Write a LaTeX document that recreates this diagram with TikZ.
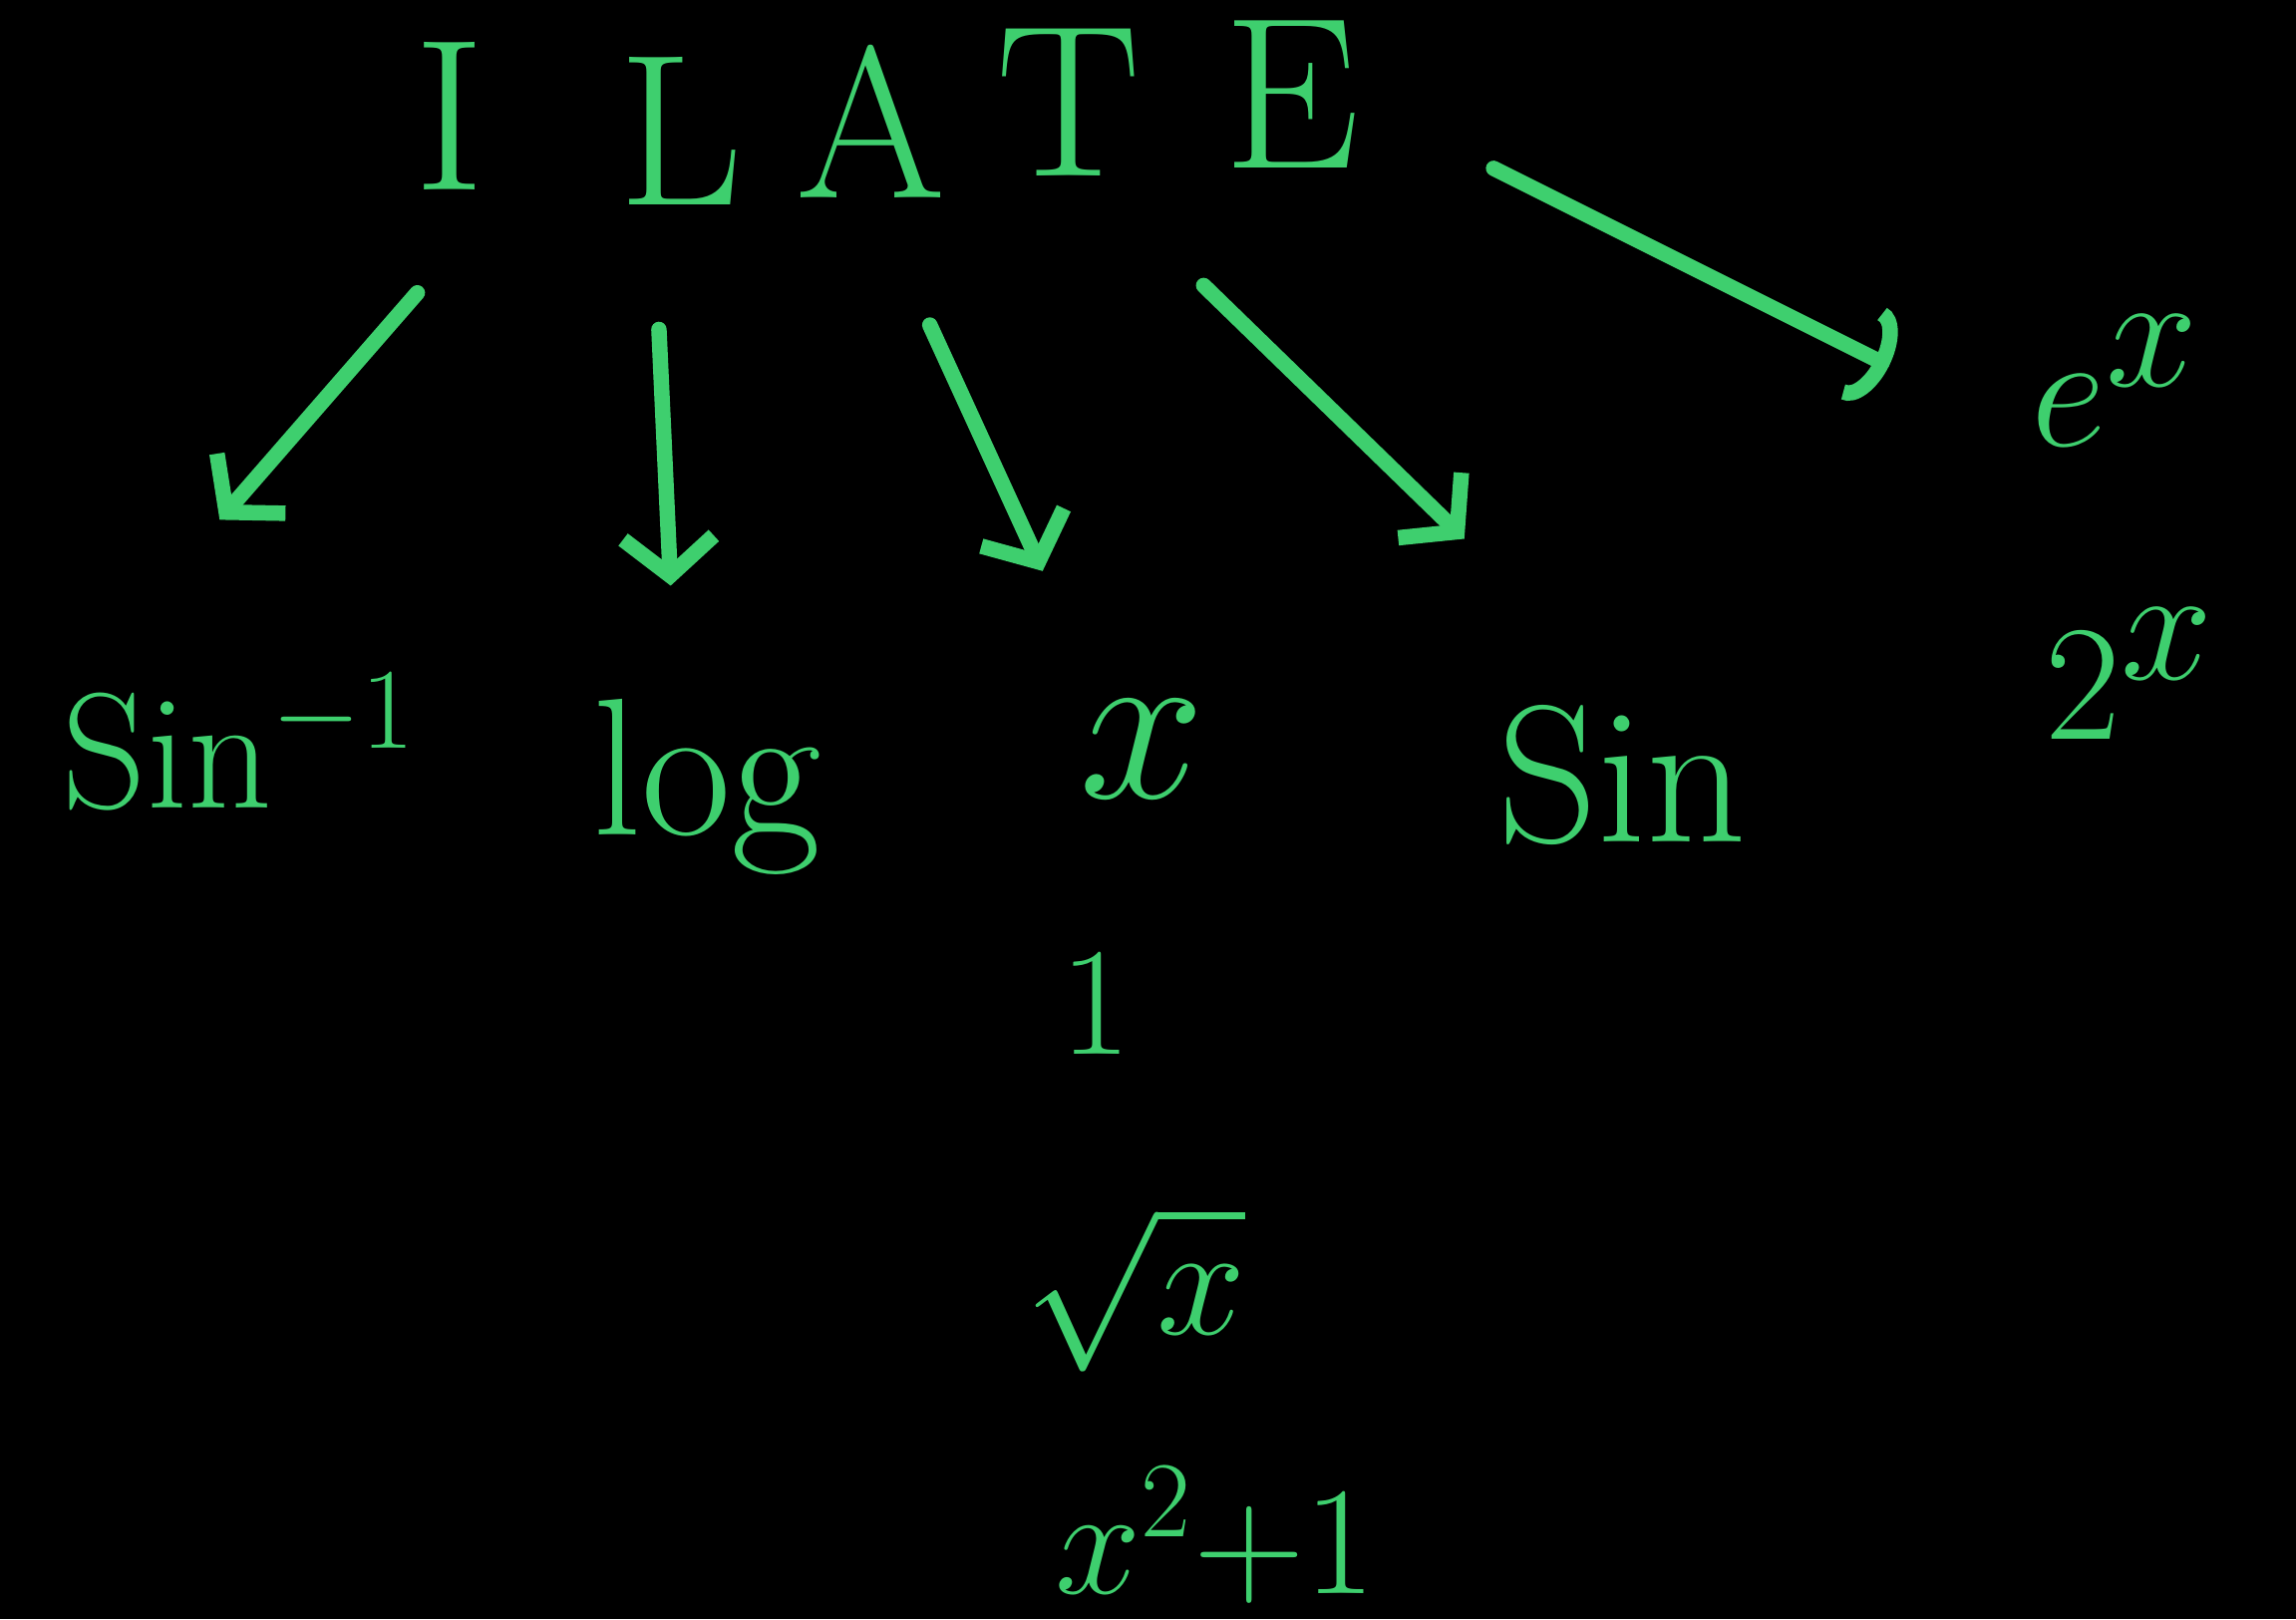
\documentclass[tikz,border=0pt]{standalone}
\usepackage{fix-cm}
\usepackage{amsmath,amssymb}
\usepackage{tikz}
\usetikzlibrary{arrows.meta,calc}

\definecolor{chalkgreen}{RGB}{62,207,110}

\begin{document}
\begin{tikzpicture}[
    letter/.style={text=chalkgreen, anchor=base, inner sep=0pt, font=\fontsize{42}{42}\selectfont},
    fn/.style={text=chalkgreen, anchor=base, inner sep=0pt, font=\fontsize{38}{38}\selectfont},
    arr/.style={chalkgreen, line width=3pt, line cap=round, -{Straight Barb[length=0.26cm, width=0.62cm, line width=3pt]}},
    arrc/.style={chalkgreen, line width=3pt, line cap=round, -{Arc Barb[length=0.2cm, width=0.7cm, line width=3pt]}}
]
% Background (fixes the page size)
\fill[black] (0,0) rectangle (15.68,11.06);
\useasboundingbox (0,0) rectangle (15.68,11.06);

% ILATE letters
\node[letter] (I) at (3.07,9.76) {I};
\node[letter] (L) at (4.65,9.66) {L};
\node[letter] (A) at (5.95,9.71) {A};
\node[letter] (T) at (7.30,9.86) {T};
\node[letter] (E) at (8.82,9.91) {E};

% Functions of each kind
\node[fn, anchor=base west, font=\fontsize{32}{32}\selectfont] (asin) at (0.42,5.54) {Sin$^{-1}$};
\node[fn] (log) at (4.83,5.36) {log};
\node[fn, font=\fontsize{44}{44}\selectfont] (xval) at (7.80,5.61) {$x$};
\node[fn] (sin) at (11.08,5.31) {Sin};
\node[fn, font=\fontsize{32}{32}\selectfont] (ex) at (14.45,8.01) {$e^{\textstyle x}$};
\node[fn, font=\fontsize{32}{32}\selectfont] (twox) at (14.55,6.01) {$2^{\textstyle x}$};

% More algebraic ones under x
\node[fn, font=\fontsize{30}{30}\selectfont] (one) at (7.48,3.86) {1};
\node[fn, font=\fontsize{31}{31}\selectfont] (sqrtx) at (7.75,1.95) {$\sqrt{x}$};
\node[fn, font=\fontsize{30}{30}\selectfont] (xsq) at (8.30,0.18) {$x^{2}{+}1$};

% Arrows from letters down to examples
\draw[arr] ($(I.base)+(-0.22,-0.70)$) -- ($(asin.base west)+(1.08,1.97)$);
\draw[arr] ($(L.base)+(-0.15,-0.85)$) -- ($(log.base)+(-0.25,1.70)$);
\draw[arr] ($(A.base)+(0.40,-0.87)$) -- ($(xval.base)+(-0.68,1.55)$);
\draw[arr] ($(T.base)+(0.92,-0.75)$) -- ($(sin.base)+(-1.08,2.07)$);
\draw[arrc] ($(E.base)+(1.38,0)$) -- ($(ex.base)+(-1.55,0.55)$);
\end{tikzpicture}
\end{document}
